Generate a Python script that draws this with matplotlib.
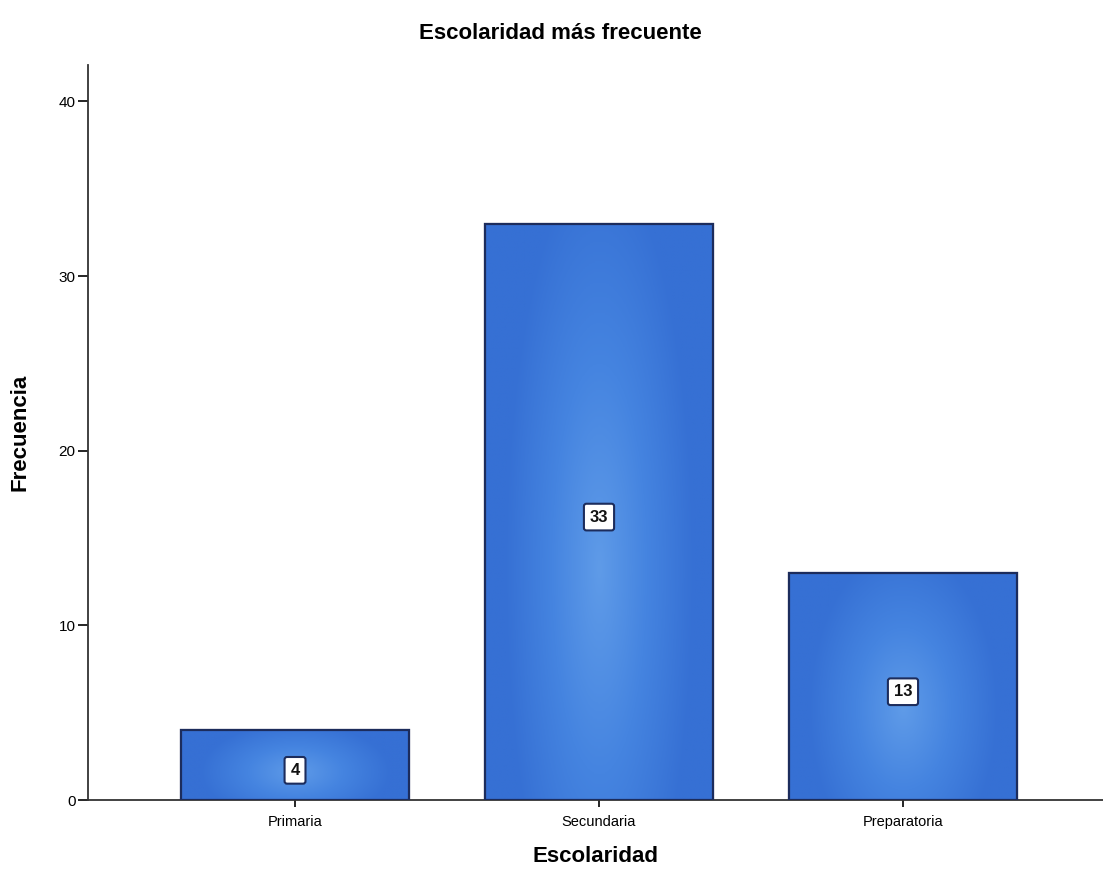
import numpy as np
import matplotlib.pyplot as plt
from matplotlib.colors import LinearSegmentedColormap

plt.rcParams["font.family"] = ["Liberation Sans", "DejaVu Sans"]

categorias = ["Primaria", "Secundaria", "Preparatoria"]
frecuencias = [4, 33, 13]

fig = plt.figure(figsize=(11.03, 8.84), dpi=100)
ax = fig.add_axes([0.0798, 0.095, 0.9202, 0.831])

x = np.arange(len(categorias))
bars = ax.bar(x, frecuencias, width=0.753, color="#3f7bdb",
              edgecolor="#1c2c5c", linewidth=1.5, zorder=2)

# relleno degradado suave dentro de cada barra
cmap = LinearSegmentedColormap.from_list("azul", ["#3670d4", "#4584e0", "#5f9be8"])
yy, xx = np.mgrid[-1:1:200j, -1:1:200j]
grad = 1 - np.clip(np.sqrt((xx * 1.2) ** 2 + ((yy + 0.2) * 0.7) ** 2), 0, 1)
for b in bars:
    x0, y0 = b.get_x(), b.get_y()
    w, h = b.get_width(), b.get_height()
    im = ax.imshow(grad, cmap=cmap, extent=[x0, x0 + w, y0, y0 + h],
                   aspect="auto", origin="lower", zorder=2.5, vmin=0, vmax=1)
    im.set_clip_path(b)
    ax.add_patch(plt.Rectangle((x0, y0), w, h, fill=False,
                               edgecolor="#1c2c5c", linewidth=1.6, zorder=3))

for xi, v in zip(x, frecuencias):
    ax.text(xi, v / 2 - 0.3, str(v), ha="center", va="center", fontsize=12,
            fontweight="bold", color="#111111", zorder=4,
            bbox=dict(boxstyle="round,pad=0.35,rounding_size=0.15",
                      fc="white", ec="#1c2c5c", lw=1.5))

ax.set_xlim(-0.681, 2.658)
ax.set_ylim(0, 42.06)
ax.set_xticks(x)
ax.set_xticklabels(categorias, fontsize=10.5)
ax.set_yticks([0, 10, 20, 30, 40])
ax.tick_params(axis="y", direction="out", length=7, width=1.2, labelsize=11, pad=2)
ax.tick_params(axis="x", direction="out", length=5, width=1.2, pad=6)

for s in ["top", "right"]:
    ax.spines[s].set_visible(False)
ax.spines["left"].set_color("#333333")
ax.spines["bottom"].set_color("#333333")
ax.spines["left"].set_linewidth(1.3)
ax.spines["bottom"].set_linewidth(1.3)

ax.set_xlabel("Escolaridad", fontsize=16, fontweight="bold", labelpad=12)
ax.set_ylabel("Frecuencia", fontsize=16, fontweight="bold", labelpad=20)
fig.text(0.508, 0.962, "Escolaridad más frecuente", ha="center", va="center",
         fontsize=16, fontweight="bold")

fig.savefig("out.png", dpi=100)
